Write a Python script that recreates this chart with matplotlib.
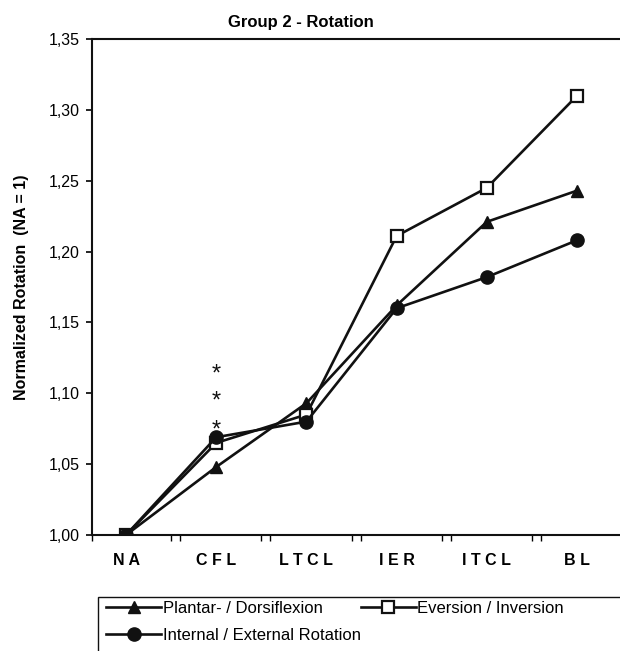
import matplotlib.pyplot as plt
from matplotlib.patches import Rectangle

plt.rcParams['font.family'] = ['Liberation Sans', 'DejaVu Sans']

# Data
categories = ["N A", "C F L", "L T C L", "I E R", "I T C L", "B L"]
plantar = [1.000, 1.048, 1.093, 1.162, 1.221, 1.243]
eversion = [1.000, 1.065, 1.085, 1.211, 1.245, 1.310]
internal = [1.000, 1.069, 1.080, 1.160, 1.182, 1.208]
yticks = [1.00, 1.05, 1.10, 1.15, 1.20, 1.25, 1.30, 1.35]
star_x = 1
star_y = [1.074, 1.094, 1.113]

fig = plt.figure(figsize=(6.2, 6.51), dpi=100)
ax = fig.add_axes([92 / 620, 1 - 535 / 651, 541 / 620, 496 / 651])

x = range(len(categories))
l1, = ax.plot(x, plantar, color='#111111', lw=1.9, marker='^', ms=9,
              mfc='#111111', mec='#111111', label="Plantar- / Dorsiflexion", zorder=3)
l2, = ax.plot(x, eversion, color='#111111', lw=1.9, marker='s', ms=8.5,
              mfc='white', mec='#111111', mew=1.6, label="Eversion / Inversion", zorder=3)
l3, = ax.plot(x, internal, color='#111111', lw=1.9, marker='o', ms=9.5,
              mfc='#111111', mec='#111111', label="Internal / External Rotation", zorder=3)

for sy in star_y:
    ax.text(star_x, sy, "*", ha='center', va='center', fontsize=17, color='#111111')

xmin, xmax = -0.377, 5.62
ax.set_xlim(xmin, xmax)
ax.set_ylim(1.0, 1.35)
ax.set_yticks(yticks)
ax.set_yticklabels([f"{v:.2f}".replace('.', ',') for v in yticks], fontsize=11.5)
ax.set_xticks(list(x))
ax.set_xticklabels(categories, fontsize=11.5, fontweight='bold')
ax.tick_params(axis='x', which='major', length=0, pad=13)
ax.set_xticks([xmin + 0.005] + [i + d for i in range(5) for d in (0.5, 0.6)], minor=True)
ax.tick_params(axis='x', which='minor', length=4, direction='out', width=1)
ax.tick_params(axis='y', length=4, width=1.2, direction='out', pad=5)
for s in ax.spines.values():
    s.set_linewidth(1.5)
    s.set_color('#111111')

ax.set_ylabel("Normalized Rotation  (NA = 1)", fontsize=11.5, fontweight='bold')
ax.yaxis.set_label_coords(-0.117, 0.5)
fig.text(301 / 620, 1 - 22 / 651, "Group 2 - Rotation", ha='center', va='center',
         fontsize=12, fontweight='bold')

# legend box runs past the figure edges
fig.patches.append(Rectangle((98 / 620, -0.1), 1.0, 0.1 + (651 - 597) / 651,
                             transform=fig.transFigure, fill=False,
                             edgecolor='#111111', lw=1.0))
leg = fig.legend([l1, l3, l2], [l1.get_label(), l3.get_label(), l2.get_label()],
                 loc='upper left', ncol=2, bbox_to_anchor=(106 / 620, 1 - 601 / 651),
                 fontsize=12, frameon=False, handlelength=3.3, handletextpad=0.1,
                 borderpad=0, labelspacing=0.7, borderaxespad=0, columnspacing=0.0)

fig.savefig("out.png", dpi=100)
